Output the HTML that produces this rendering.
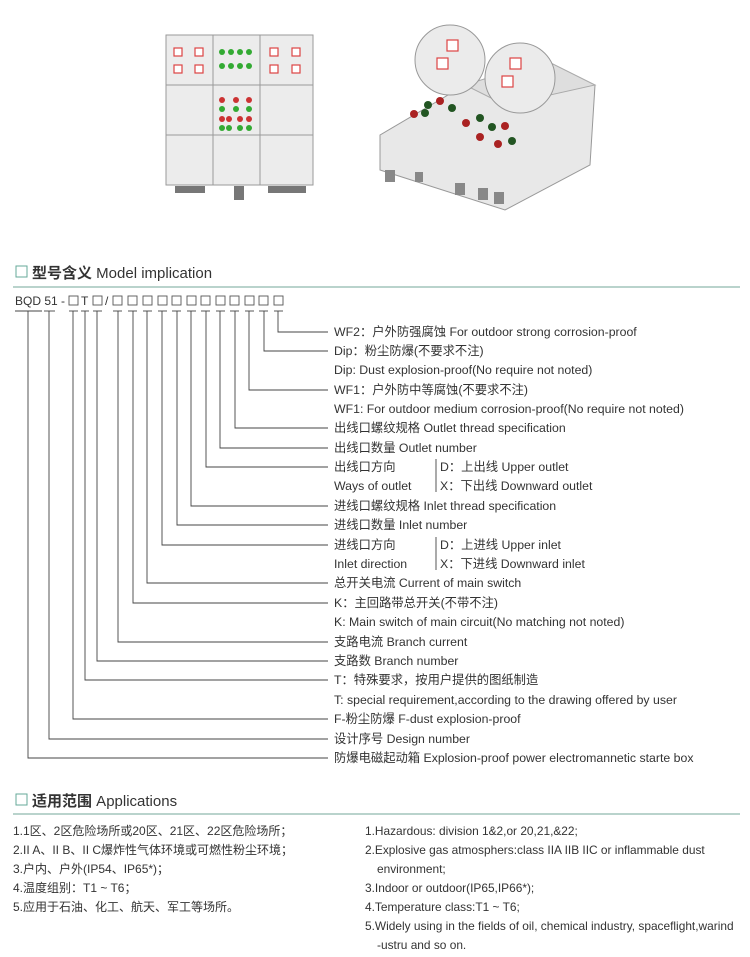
<!DOCTYPE html>
<html><head><meta charset="utf-8"><style>
body{margin:0;background:#fff;}
svg text{font-family:"Liberation Sans","Noto Sans CJK SC",sans-serif;fill:#333;}
</style></head><body>
<svg width="750" height="952" viewBox="0 0 750 952" xmlns="http://www.w3.org/2000/svg">
<g stroke="#9a9a9a" stroke-width="1" fill="#ececec">
<rect x="166" y="35" width="47" height="50"/><rect x="213" y="35" width="47" height="50"/><rect x="260" y="35" width="53" height="50"/>
<rect x="166" y="85" width="47" height="50"/><rect x="213" y="85" width="47" height="50"/><rect x="260" y="85" width="53" height="50"/>
<rect x="166" y="135" width="47" height="50"/><rect x="213" y="135" width="47" height="50"/><rect x="260" y="135" width="53" height="50"/>
</g>
<g fill="#fff" stroke="#d44" stroke-width="1.2">
<rect x="174" y="48" width="8" height="8"/><rect x="195" y="48" width="8" height="8"/><rect x="174" y="65" width="8" height="8"/><rect x="195" y="65" width="8" height="8"/>
<rect x="270" y="48" width="8" height="8"/><rect x="292" y="48" width="8" height="8"/><rect x="270" y="65" width="8" height="8"/><rect x="292" y="65" width="8" height="8"/>
</g>
<g fill="#3a3">
<circle cx="222" cy="52" r="3"/><circle cx="231" cy="52" r="3"/><circle cx="240" cy="52" r="3"/><circle cx="249" cy="52" r="3"/>
<circle cx="222" cy="66" r="3"/><circle cx="231" cy="66" r="3"/><circle cx="240" cy="66" r="3"/><circle cx="249" cy="66" r="3"/>
<circle cx="222" cy="109" r="3"/><circle cx="236" cy="109" r="3"/><circle cx="249" cy="109" r="3"/>
<circle cx="222" cy="128" r="3"/><circle cx="229" cy="128" r="3"/><circle cx="240" cy="128" r="3"/><circle cx="249" cy="128" r="3"/>
</g>
<g fill="#c33">
<circle cx="222" cy="100" r="3"/><circle cx="236" cy="100" r="3"/><circle cx="249" cy="100" r="3"/>
<circle cx="222" cy="119" r="3"/><circle cx="229" cy="119" r="3"/><circle cx="240" cy="119" r="3"/><circle cx="249" cy="119" r="3"/>
</g>
<g fill="#777"><rect x="175" y="186" width="30" height="7"/><rect x="234" y="186" width="10" height="14"/><rect x="268" y="186" width="38" height="7"/></g>
<polygon points="380,135 465,85 595,85 590,165 505,210 380,170" fill="#e8e8e8" stroke="#999"/>
<polygon points="465,85 545,60 595,85 505,105" fill="#dedede" stroke="#aaa"/>
<circle cx="450" cy="60" r="35" fill="#ebebeb" stroke="#999"/>
<circle cx="520" cy="78" r="35" fill="#ebebeb" stroke="#999"/>
<g fill="#fff" stroke="#d44" stroke-width="1.2"><rect x="447" y="40" width="11" height="11"/><rect x="437" y="58" width="11" height="11"/><rect x="510" y="58" width="11" height="11"/><rect x="502" y="76" width="11" height="11"/></g>
<g fill="#252"><circle cx="428" cy="105" r="4"/><circle cx="425" cy="113" r="4"/><circle cx="452" cy="108" r="4"/><circle cx="480" cy="118" r="4"/><circle cx="492" cy="127" r="4"/><circle cx="512" cy="141" r="4"/></g>
<g fill="#a22"><circle cx="414" cy="114" r="4"/><circle cx="440" cy="101" r="4"/><circle cx="466" cy="123" r="4"/><circle cx="480" cy="137" r="4"/><circle cx="498" cy="144" r="4"/><circle cx="505" cy="126" r="4"/></g>
<g fill="#888"><rect x="385" y="170" width="10" height="12"/><rect x="415" y="172" width="8" height="10"/><rect x="455" y="183" width="10" height="12"/><rect x="478" y="188" width="10" height="12"/><rect x="494" y="192" width="10" height="12"/></g>

<rect x="16" y="266" width="11" height="11" fill="none" stroke="#6a9" stroke-width="1"/>
<text x="32" y="278" font-size="15"><tspan font-weight="bold">型号含义</tspan> Model implication</text>
<line x1="13" y1="287" x2="740" y2="287" stroke="#b9d3cc" stroke-width="2"/>
<text x="15" y="305" font-size="12">BQD 51 -</text>
<text x="81" y="305" font-size="12">T</text>
<text x="105" y="305" font-size="12">/</text>
<g fill="none" stroke="#555" stroke-width="0.9">
<rect x="69" y="296" width="9" height="9"/><rect x="93" y="296" width="9" height="9"/>
<rect x="113" y="296" width="9" height="9"/><rect x="128" y="296" width="9" height="9"/><rect x="143" y="296" width="9" height="9"/><rect x="158" y="296" width="9" height="9"/><rect x="172" y="296" width="9" height="9"/><rect x="187" y="296" width="9" height="9"/><rect x="201" y="296" width="9" height="9"/><rect x="216" y="296" width="9" height="9"/><rect x="230" y="296" width="9" height="9"/><rect x="245" y="296" width="9" height="9"/><rect x="259" y="296" width="9" height="9"/><rect x="274" y="296" width="9" height="9"/>
</g>
<g stroke="#444" stroke-width="0.9" fill="none">
<line x1="15" y1="311" x2="42" y2="311"/><line x1="44" y1="311" x2="55" y2="311"/>
<line x1="69" y1="311" x2="78" y2="311"/><line x1="81" y1="311" x2="89" y2="311"/><line x1="93" y1="311" x2="102" y2="311"/>
<line x1="113" y1="311" x2="122" y2="311"/><line x1="128" y1="311" x2="137" y2="311"/><line x1="143" y1="311" x2="152" y2="311"/><line x1="158" y1="311" x2="167" y2="311"/><line x1="172" y1="311" x2="181" y2="311"/><line x1="187" y1="311" x2="196" y2="311"/><line x1="201" y1="311" x2="210" y2="311"/><line x1="216" y1="311" x2="225" y2="311"/><line x1="230" y1="311" x2="239" y2="311"/><line x1="245" y1="311" x2="254" y2="311"/><line x1="259" y1="311" x2="268" y2="311"/><line x1="274" y1="311" x2="283" y2="311"/>
<polyline points="28,311 28,758 328,758"/>
<polyline points="49,311 49,739 328,739"/>
<polyline points="73,311 73,719 328,719"/>
<polyline points="85,311 85,680 328,680"/>
<polyline points="97,311 97,661 328,661"/>
<polyline points="118,311 118,642 328,642"/>
<polyline points="133,311 133,603 328,603"/>
<polyline points="147,311 147,583 328,583"/>
<polyline points="162,311 162,545 328,545"/>
<polyline points="177,311 177,525 328,525"/>
<polyline points="191,311 191,506 328,506"/>
<polyline points="206,311 206,467 328,467"/>
<polyline points="220,311 220,448 328,448"/>
<polyline points="235,311 235,428 328,428"/>
<polyline points="249,311 249,390 328,390"/>
<polyline points="264,311 264,351 328,351"/>
<polyline points="278,311 278,332 328,332"/>
<line x1="436" y1="459" x2="436" y2="492"/>
<line x1="436" y1="537" x2="436" y2="570"/>
</g>
<g font-size="12.3">
<text x="334" y="336">WF2：户外防强腐蚀  For outdoor strong corrosion-proof</text>
<text x="334" y="355">Dip：粉尘防爆(不要求不注)</text>
<text x="334" y="374">Dip: Dust explosion-proof(No require not noted)</text>
<text x="334" y="394">WF1：户外防中等腐蚀(不要求不注)</text>
<text x="334" y="413">WF1: For outdoor medium corrosion-proof(No require not noted)</text>
<text x="334" y="432">出线口螺纹规格  Outlet thread specification</text>
<text x="334" y="452">出线口数量  Outlet number</text>
<text x="334" y="471">出线口方向</text>
<text x="440" y="471">D：上出线  Upper outlet</text>
<text x="334" y="490">Ways of outlet</text>
<text x="440" y="490">X：下出线  Downward outlet</text>
<text x="334" y="510">进线口螺纹规格  Inlet thread specification</text>
<text x="334" y="529">进线口数量  Inlet number</text>
<text x="334" y="549">进线口方向</text>
<text x="440" y="549">D：上进线  Upper inlet</text>
<text x="334" y="568">Inlet direction</text>
<text x="440" y="568">X：下进线  Downward inlet</text>
<text x="334" y="587">总开关电流  Current of main switch</text>
<text x="334" y="607">K：主回路带总开关(不带不注)</text>
<text x="334" y="626">K: Main switch of main circuit(No matching not noted)</text>
<text x="334" y="646">支路电流  Branch current</text>
<text x="334" y="665">支路数  Branch number</text>
<text x="334" y="684">T：特殊要求，按用户提供的图纸制造</text>
<text x="334" y="704">T: special requirement,according to the drawing offered by user</text>
<text x="334" y="723">F-粉尘防爆  F-dust explosion-proof</text>
<text x="334" y="743">设计序号  Design number</text>
<text x="334" y="762">防爆电磁起动箱  Explosion-proof power electromannetic starte box</text>
</g>

<rect x="16" y="794" width="11" height="11" fill="none" stroke="#6a9" stroke-width="1"/>
<text x="32" y="806" font-size="15"><tspan font-weight="bold">适用范围</tspan> Applications</text>
<line x1="13" y1="814" x2="740" y2="814" stroke="#b9d3cc" stroke-width="2"/>
<g font-size="12">
<text x="13" y="835">1.1区、2区危险场所或20区、21区、22区危险场所；</text>
<text x="13" y="854">2.II A、II B、II C爆炸性气体环境或可燃性粉尘环境；</text>
<text x="13" y="873">3.户内、户外(IP54、IP65*)；</text>
<text x="13" y="892">4.温度组别：T1 ~ T6；</text>
<text x="13" y="911">5.应用于石油、化工、航天、军工等场所。</text>
</g>
<g font-size="11.9">
<text x="365" y="835">1.Hazardous: division 1&amp;2,or 20,21,&amp;22;</text>
<text x="365" y="854">2.Explosive gas atmosphers:class IIA IIB IIC or inflammable dust</text>
<text x="377" y="873">environment;</text>
<text x="365" y="892">3.Indoor or outdoor(IP65,IP66*);</text>
<text x="365" y="911">4.Temperature class:T1 ~ T6;</text>
<text x="365" y="930">5.Widely using in the fields of oil, chemical industry, spaceflight,warind</text>
<text x="377" y="949">-ustru and so on.</text>
</g>
</svg>
</body></html>
